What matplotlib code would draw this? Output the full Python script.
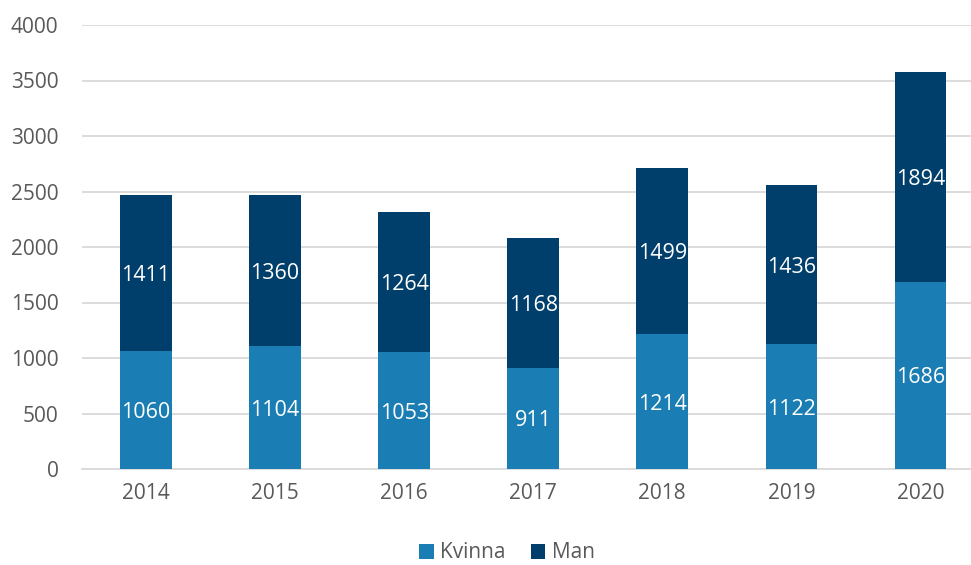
import matplotlib
matplotlib.use("Agg")
import matplotlib.pyplot as plt
import numpy as np

years = ["2014", "2015", "2016", "2017", "2018", "2019", "2020"]
kvinna = [1060, 1104, 1053, 911, 1214, 1122, 1686]
man = [1411, 1360, 1264, 1168, 1499, 1436, 1894]
yticks = [0, 500, 1000, 1500, 2000, 2500, 3000, 3500, 4000]

plt.rcParams['font.family'] = ['Open Sans', 'DejaVu Sans']

c_k = "#1a7db3"
c_m = "#003f6b"
txt = "#595959"

fig = plt.figure(figsize=(9.71, 5.65), dpi=100)
ax = fig.add_axes([82/971, 1-469/565, (972-82)/971, (469-25)/565])

x = np.arange(len(years))
w = 0.40
b1 = ax.bar(x, kvinna, w, color=c_k, label="Kvinna", zorder=3)
b2 = ax.bar(x, man, w, bottom=kvinna, color=c_m, label="Man", zorder=3)

for i in range(len(years)):
    ax.text(x[i], kvinna[i]/2, str(kvinna[i]), ha="center", va="center_baseline",
            color="white", fontsize=15.5, zorder=4)
    ax.text(x[i], kvinna[i] + man[i]/2, str(man[i]), ha="center", va="center_baseline",
            color="white", fontsize=15.5, zorder=4)

ax.set_xlim(-0.496, 6.4)
ax.set_ylim(0, 4000)
ax.set_yticks(yticks)
ax.set_xticks(x)
ax.set_xticklabels(years)
ax.yaxis.grid(True, color="#d9d9d9", linewidth=1.3, zorder=0)
ax.set_axisbelow(True)
for s in ["top", "right", "left"]:
    ax.spines[s].set_visible(False)
ax.spines["bottom"].set_color("#d9d9d9")
ax.spines["bottom"].set_linewidth(1.3)
ax.tick_params(axis="both", length=0, labelsize=15, colors=txt, pad=10)
ax.tick_params(axis="y", pad=17)

leg = fig.legend(handles=[b1, b2], labels=["Kvinna", "Man"], loc="center",
                 bbox_to_anchor=(507/971, 1-553/565), ncol=2, frameon=False,
                 fontsize=15, handlelength=0.7, handleheight=0.7,
                 handletextpad=0.3, columnspacing=1.2)
for t in leg.get_texts():
    t.set_color(txt)

fig.savefig("out.png", dpi=100)
